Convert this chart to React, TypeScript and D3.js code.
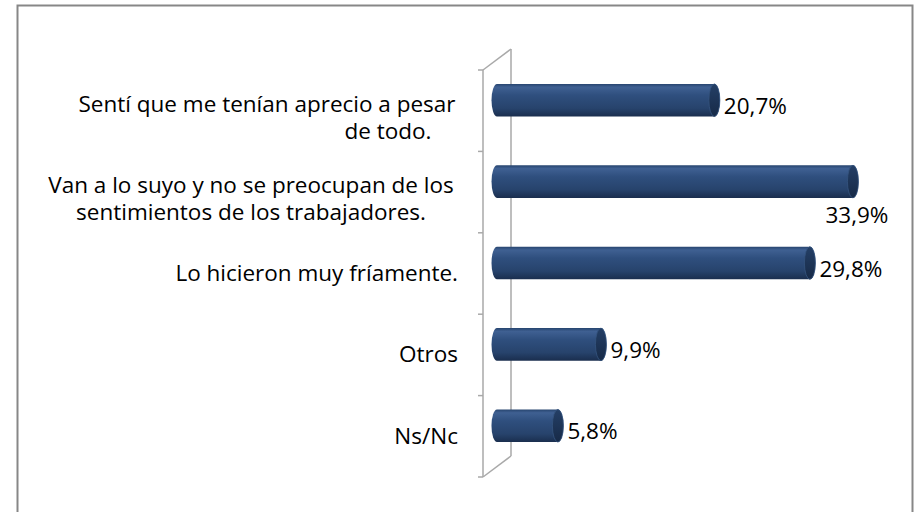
import React from 'react';
import * as d3 from 'd3';

const categories = [
  'Sentí que me tenían aprecio a pesar|de todo.',
  'Van a lo suyo y no se preocupan de los|sentimientos de los trabajadores.',
  'Lo hicieron muy fríamente.',
  'Otros',
  'Ns/Nc',
];
const values = [20.7, 33.9, 29.8, 9.9, 5.8];
const valueLabels = ['20,7%', '33,9%', '29,8%', '9,9%', '5,8%'];

const W = 914;
const H = 512;
const FONT = '"Open Sans", Lato, sans-serif';
const FS = 22.5;

const App = () => {
  // front plane of the 3d plot area
  const x = d3.scaleLinear().domain([0, 35]).range([483, 850.5]);
  const y = d3.scaleBand().domain(categories).range([70, 477]).padding(0);
  const depth = { dx: 28, dy: -21 };
  const barH = y.bandwidth() * 0.4;
  const r = barH / 2;
  const rx = 5.5;

  const ticks = d3.range(categories.length + 1).map(i => 70 + i * y.step());

  const cylinder = (x0, x1, cy) =>
    `M${x0},${cy - r} L${x1},${cy - r} A${rx},${r} 0 0 1 ${x1},${cy + r} L${x0},${cy + r} A${rx},${r} 0 0 1 ${x0},${cy - r} Z`;

  // wrapped labels: line centres as Excel laid them out
  const lineX = (i, j) => (i === 0 ? (j === 0 ? 267 : 388) : 251);

  return (
    <div style={{ position: 'fixed', left: 0, top: 0 }}>
      <svg width={W} height={H} style={{ display: 'block', background: '#fff' }}>
        <defs>
          <linearGradient id="body" x1="0" y1="0" x2="0" y2="1">
            <stop offset="0%" stopColor="#27456f" />
            <stop offset="10%" stopColor="#3f6092" />
            <stop offset="35%" stopColor="#2f4f7e" />
            <stop offset="75%" stopColor="#27436c" />
            <stop offset="100%" stopColor="#1a2e4e" />
          </linearGradient>
          <linearGradient id="cap" x1="0" y1="0" x2="0" y2="1">
            <stop offset="0%" stopColor="#243f66" />
            <stop offset="100%" stopColor="#172a47" />
          </linearGradient>
        </defs>

        {/* chart border */}
        <rect x={17.5} y={5.5} width={895} height={520} fill="none" stroke="#878787" strokeWidth={2} />

        {/* 3d axis wall */}
        <g stroke="#a9a9a9" strokeWidth={1.5} fill="none">
          <line x1={x(0)} y1={ticks[0]} x2={x(0)} y2={ticks[ticks.length - 1]} />
          <line x1={x(0) + depth.dx} y1={ticks[0] + depth.dy} x2={x(0) + depth.dx} y2={ticks[ticks.length - 1] + depth.dy} />
          <line x1={x(0)} y1={ticks[0]} x2={x(0) + depth.dx} y2={ticks[0] + depth.dy} />
          <line x1={x(0)} y1={ticks[ticks.length - 1]} x2={x(0) + depth.dx} y2={ticks[ticks.length - 1] + depth.dy} />
          {ticks.map((t, i) => (
            <line key={i} x1={x(0) - 5} y1={t} x2={x(0)} y2={t} />
          ))}
        </g>

        {/* bars */}
        {categories.map((c, i) => {
          const cy = y(c) + y.bandwidth() / 2 + depth.dy / 2;
          const x0 = x(0) + depth.dx / 2;
          const x1 = x(values[i]) + depth.dx / 2;
          const inside = i !== 1;
          return (
            <g key={c}>
              <path d={cylinder(x0, x1, cy)} fill="url(#body)" />
              <ellipse cx={x1} cy={cy} rx={rx} ry={r} fill="url(#cap)" stroke="#35547f" strokeWidth={0.8} />
              {inside ? (
                <text x={x1 + rx + 4} y={cy + 5} dominantBaseline="central" fontFamily={FONT} fontSize={FS} fill="#000">
                  {valueLabels[i]}
                </text>
              ) : (
                <text x={x1 + 4} y={cy + r + 17} dominantBaseline="central" textAnchor="middle" fontFamily={FONT} fontSize={FS} fill="#000">
                  {valueLabels[i]}
                </text>
              )}
            </g>
          );
        })}

        {/* category labels */}
        {categories.map((c, i) => {
          const lines = c.split('|');
          const cy = y(c) + y.bandwidth() / 2 + (lines.length > 1 ? 6 : -1);
          const lh = 27;
          if (lines.length === 1) {
            return (
              <text key={c} x={458} y={cy} textAnchor="end" dominantBaseline="central" fontFamily={FONT} fontSize={FS} fill="#000">
                {c}
              </text>
            );
          }
          return (
            <g key={c}>
              {lines.map((l, j) => (
                <text
                  key={j}
                  x={lineX(i, j)}
                  y={cy + (j - (lines.length - 1) / 2) * lh}
                  textAnchor="middle"
                  dominantBaseline="central"
                  fontFamily={FONT}
                  fontSize={FS}
                  fill="#000"
                >
                  {l}
                </text>
              ))}
            </g>
          );
        })}
      </svg>
    </div>
  );
};

export default App;
